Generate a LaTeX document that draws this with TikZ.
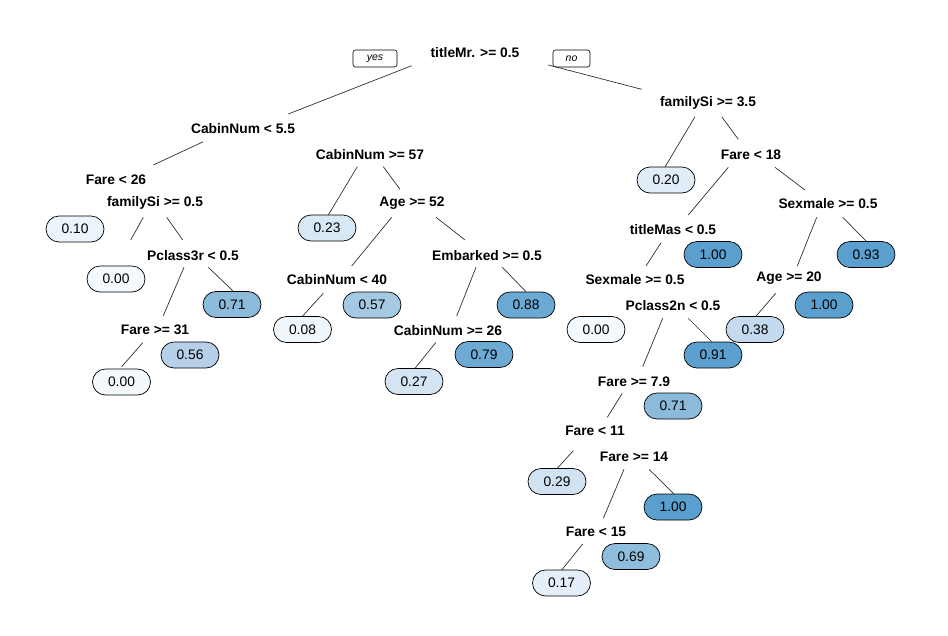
\documentclass[tikz,border=0pt]{standalone}
\usepackage{fontspec}
\setmainfont{Liberation Sans}
\usetikzlibrary{shapes.misc}
\definecolor{c000}{HTML}{F4F9FE}
\definecolor{c008}{HTML}{EFF6FC}
\definecolor{c010}{HTML}{ECF4FB}
\definecolor{c017}{HTML}{E4EFF9}
\definecolor{c020}{HTML}{E0ECF8}
\definecolor{c023}{HTML}{D9E8F5}
\definecolor{c027}{HTML}{D4E4F3}
\definecolor{c029}{HTML}{D1E2F2}
\definecolor{c038}{HTML}{C4DAEE}
\definecolor{c056}{HTML}{B6D0EA}
\definecolor{c057}{HTML}{A5C8E3}
\definecolor{c069}{HTML}{8FBDDC}
\definecolor{c071}{HTML}{8BBADB}
\definecolor{c079}{HTML}{6DABD5}
\definecolor{c088}{HTML}{69A9D4}
\definecolor{c091}{HTML}{5BA0CF}
\definecolor{c100}{HTML}{5A9FCE}
\definecolor{edgec}{HTML}{303030}
\tikzset{
  split/.style={font=\fontsize{13.8}{15}\selectfont\bfseries, inner sep=0pt},
  leaf/.style={draw=black, line width=0.7pt, rounded rectangle, minimum width=58pt,
    minimum height=26pt, inner sep=0pt, font=\fontsize{13.8}{15}\selectfont, fill=#1},
  yn/.style={draw=black, line width=0.6pt, rounded corners=2.5pt, minimum height=17pt,
    inner sep=0pt, font=\fontsize{10.5}{12}\selectfont\itshape},
  edge/.style={draw=edgec, line width=0.7pt}
}
\begin{document}
\begin{tikzpicture}[x=1pt,y=-1pt]
\useasboundingbox (0,0) rectangle (948,635);
\fill[white] (0,0) rectangle (948,635);
% yes / no
\node[yn, minimum width=44pt] (yes) at (375,58.5) {yes};
\node[yn, minimum width=37pt] (no) at (571.5,58.5) {no};
% split labels
\node[split] (s1) at (475,53) {titleMr. >= 0.5};
\node[split] (s2) at (708,103) {familySi >= 3.5};
\node[split] (s3) at (243,129) {CabinNum < 5.5};
\node[split] (s4) at (370,155) {CabinNum >= 57};
\node[split] (s5) at (116,180) {Fare < 26};
\node[split] (s6) at (155,203) {familySi >= 0.5};
\node[split] (s7) at (412,203.5) {Age >= 52};
\node[split] (s8) at (751,155) {Fare < 18};
\node[split] (s9) at (828,204) {Sexmale >= 0.5};
\node[split] (s10) at (673,229.5) {titleMas < 0.5};
\node[split] (s11) at (193,255.5) {Pclass3r < 0.5};
\node[split] (s12) at (487,255.5) {Embarked >= 0.5};
\node[split] (s13) at (337,280) {CabinNum < 40};
\node[split] (s14) at (635,280) {Sexmale >= 0.5};
\node[split] (s15) at (789,278.5) {Age >= 20};
\node[split] (s16) at (673,305.5) {Pclass2n < 0.5};
\node[split] (s17) at (155,330) {Fare >= 31};
\node[split] (s18) at (448,330.5) {CabinNum >= 26};
\node[split] (s19) at (634,381.5) {Fare >= 7.9};
\node[split] (s20) at (595,431) {Fare < 11};
\node[split] (s21) at (634,456.5) {Fare >= 14};
\node[split] (s22) at (596,531.5) {Fare < 15};
% leaves
\node[leaf=c010] (l1) at (75,229) {0.10};
\node[leaf=c000] (l2) at (116,279) {0.00};
\node[leaf=c071] (l3) at (232,304.5) {0.71};
\node[leaf=c056] (l4) at (190,355) {0.56};
\node[leaf=c000] (l5) at (121.5,382) {0.00};
\node[leaf=c023] (l6) at (327,228) {0.23};
\node[leaf=c008] (l7) at (302.5,329.5) {0.08};
\node[leaf=c057] (l8) at (372,305) {0.57};
\node[leaf=c027] (l9) at (414,381.5) {0.27};
\node[leaf=c079] (l10) at (484,354.5) {0.79};
\node[leaf=c088] (l11) at (526,305) {0.88};
\node[leaf=c020] (l12) at (666,180) {0.20};
\node[leaf=c100] (l13) at (713,254.5) {1.00};
\node[leaf=c100] (l14) at (866,254.5) {0.93};
\node[leaf=c000] (l15) at (596,329.5) {0.00};
\node[leaf=c100] (l16) at (824,305) {1.00};
\node[leaf=c038] (l17) at (755,329.5) {0.38};
\node[leaf=c091] (l18) at (713,355) {0.91};
\node[leaf=c071] (l19) at (673,406) {0.71};
\node[leaf=c029] (l20) at (557,481.5) {0.29};
\node[leaf=c100] (l21) at (673,507) {1.00};
\node[leaf=c069] (l22) at (631,556.5) {0.69};
\node[leaf=c017] (l23) at (561.5,583) {0.17};
% visible branch segments
\draw[edge] (411.7,65.7) -- (288.3,114);
\draw[edge] (548.3,65) -- (641.7,89.3);
\draw[edge] (203.3,141.7) -- (153.3,165);
\draw[edge] (143.3,217.3) -- (130.7,240);
\draw[edge] (166.7,217.3) -- (182.7,240);
\draw[edge] (184,267.3) -- (163.3,315.7);
\draw[edge] (208.3,267.3) -- (232.7,290.7);
\draw[edge] (142.7,342.7) -- (121.7,366.7);
\draw[edge] (357.3,166.7) -- (328.3,215);
\draw[edge] (383.3,166.7) -- (400,189.3);
\draw[edge] (391.7,217.3) -- (351.7,266);
\draw[edge] (436,217.3) -- (465,240);
\draw[edge] (476,267.3) -- (456.7,316);
\draw[edge] (502.3,267.3) -- (526,291.7);
\draw[edge] (323.3,293.3) -- (302.7,316);
\draw[edge] (435.7,342.7) -- (415,368.3);
\draw[edge] (695,116.7) -- (665,167);
\draw[edge] (721.7,116.7) -- (738.3,139.3);
\draw[edge] (728.3,167.3) -- (688.3,215);
\draw[edge] (775,167.3) -- (805,190);
\draw[edge] (816.7,217.3) -- (797.3,266);
\draw[edge] (842.7,217.3) -- (866,241);
\draw[edge] (661,242.7) -- (646,266);
\draw[edge] (775.7,293.3) -- (755.7,316.5);
\draw[edge] (662.7,318.3) -- (642.7,366.7);
\draw[edge] (688.3,318.3) -- (711.7,341.7);
\draw[edge] (622.3,393.3) -- (607.3,417.3);
\draw[edge] (573.3,450.7) -- (557.3,468.3);
\draw[edge] (624,469.3) -- (603.3,518.3);
\draw[edge] (649,469.3) -- (674,494);
\draw[edge] (582.7,544) -- (561.7,570);
\end{tikzpicture}
\end{document}
